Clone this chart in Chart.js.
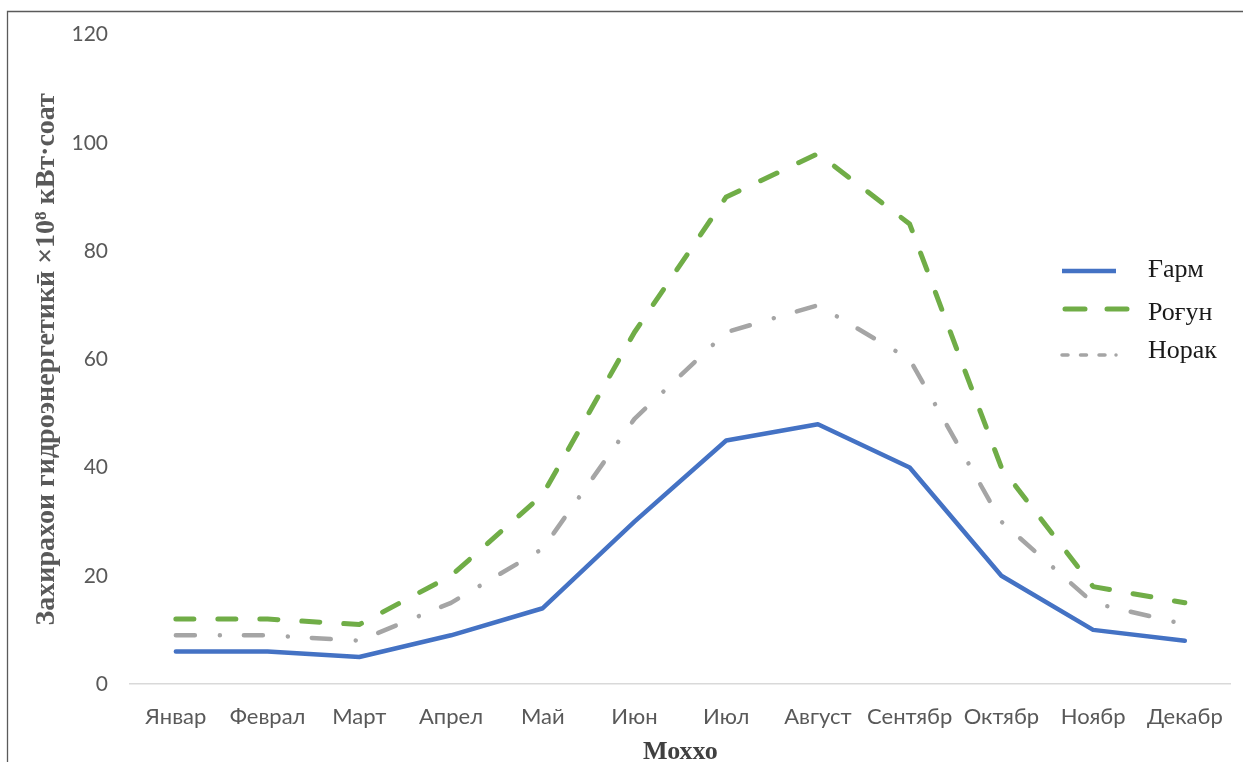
<!DOCTYPE html>
<html>
<head>
<meta charset="utf-8">
<script src="https://cdn.jsdelivr.net/npm/chart.js@4"></script>
<style>
  html, body { margin: 0; padding: 0; overflow: hidden; background: #fff; width: 1243px; height: 762px; }
  #wrap { position: absolute; left: 0; top: 0; width: 1243px; height: 780px; }
</style>
</head>
<body>
<div id="wrap"><canvas id="c"></canvas></div>
<script>
// Monthly hydropower reserves, ×10⁸ kWh
const months = ['Январ', 'Феврал', 'Март', 'Апрел', 'Май', 'Июн', 'Июл', 'Август', 'Сентябр', 'Октябр', 'Ноябр', 'Декабр'];
const garm  = [6, 6, 5, 9, 14, 30, 45, 48, 40, 20, 10, 8];
const rogun = [12, 12, 11, 20, 35, 65, 90, 98, 85, 40, 18, 15];
const norak = [9, 9, 8, 15, 25, 49, 65, 70, 60, 30, 15, 11];
const seriesNames = ['Ғарм', 'Роғун', 'Норак'];
const yMin = 0, yMax = 120, yStep = 20;
const yTitle = 'Захирахои гидроэнергетикӣ ×10⁸ кВт·соат';
const xTitle = 'Моххо';

const BLUE = '#4472C4', GREEN = '#70AD47', GREY = '#A5A5A5';
const TICK = '#595959';

// Outer frame of the chart box (left and top edges)
const framePlugin = {
  id: 'frame',
  beforeDraw(chart) {
    const ctx = chart.ctx;
    ctx.save();
    ctx.strokeStyle = '#5a5a5a';
    ctx.lineWidth = 1.3;
    ctx.beginPath();
    ctx.moveTo(7.5, chart.height + 5);
    ctx.lineTo(7.5, 11.5);
    ctx.lineTo(chart.width + 5, 11.5);
    ctx.stroke();
    ctx.restore();
  }
};

// Legend drawn inside the plot on the right, with line samples
const legendPlugin = {
  id: 'insideLegend',
  afterDraw(chart) {
    const ctx = chart.ctx;
    const rows = [
      { y: 271, dash: [], width: 4.5, x0: 1062, x1: 1116, textY: 270 },
      { y: 309, dash: [20, 22], width: 5, x0: 1065, x1: 1127, textY: 313 },
      { y: 355, dash: [6, 12.5, 6, 12.5, 6, 11, 0.01, 200], width: 3.5, x0: 1062, x1: 1125, textY: 351 }
    ];
    chart.data.datasets.forEach((ds, i) => {
      const r = rows[i];
      ctx.save();
      ctx.strokeStyle = ds.borderColor;
      ctx.lineWidth = r.width;
      ctx.lineCap = i === 0 ? 'butt' : 'round';
      ctx.setLineDash(r.dash);
      ctx.beginPath();
      ctx.moveTo(r.x0, r.y);
      ctx.lineTo(r.x1, r.y);
      ctx.stroke();
      ctx.restore();
      ctx.save();
      ctx.fillStyle = '#1a1a1a';
      ctx.font = '26px "Liberation Serif", "Times New Roman", serif';
      ctx.textBaseline = 'middle';
      ctx.textAlign = 'left';
      ctx.fillText(ds.label, 1148, r.textY);
      ctx.restore();
    });
  }
};

new Chart(document.getElementById('c'), {
  type: 'line',
  data: {
    labels: months,
    datasets: [
      { label: seriesNames[0], data: garm, borderColor: BLUE, borderWidth: 4.5,
        borderCapStyle: 'round', borderJoinStyle: 'round', pointRadius: 0, tension: 0 },
      { label: seriesNames[1], data: rogun, borderColor: GREEN, borderWidth: 5,
        borderDash: [18, 24], borderCapStyle: 'round', borderJoinStyle: 'round', pointRadius: 0, tension: 0 },
      { label: seriesNames[2], data: norak, borderColor: GREY, borderWidth: 4.5,
        borderDash: [19, 25, 0.01, 24], borderCapStyle: 'round', borderJoinStyle: 'round', pointRadius: 0, tension: 0 }
    ]
  },
  options: {
    responsive: true,
    maintainAspectRatio: false,
    animation: false,
    devicePixelRatio: 1,
    layout: { padding: { top: 34, left: 0, right: 7, bottom: 0 } },
    plugins: {
      legend: { display: false },
      tooltip: { enabled: false }
    },
    scales: {
      x: {
        offset: true,
        grid: { display: false, drawTicks: false },
        border: { display: true, color: '#d9d9d9', width: 1.5 },
        ticks: { color: TICK, padding: 20, font: { family: 'Lato', size: 22 }, maxRotation: 0, autoSkip: false },
        title: { display: true, text: xTitle, color: '#404040',
                 font: { family: 'Liberation Serif', size: 26, weight: 'bold' }, padding: { top: 0, bottom: 12 } },
        afterFit(scale) { scale.height = 96; }
      },
      y: {
        min: yMin, max: yMax,
        grid: { display: false, drawTicks: false },
        border: { display: false },
        ticks: { stepSize: yStep, color: TICK, padding: 22, font: { family: 'Lato', size: 21 } },
        title: { display: true, text: yTitle, color: '#595959',
                 font: { family: 'Liberation Serif', size: 28, weight: 'bold' }, padding: { top: 30, bottom: 0 } },
        afterFit(scale) { scale.width = 130; }
      }
    }
  },
  plugins: [framePlugin, legendPlugin]
});
</script>
</body>
</html>
